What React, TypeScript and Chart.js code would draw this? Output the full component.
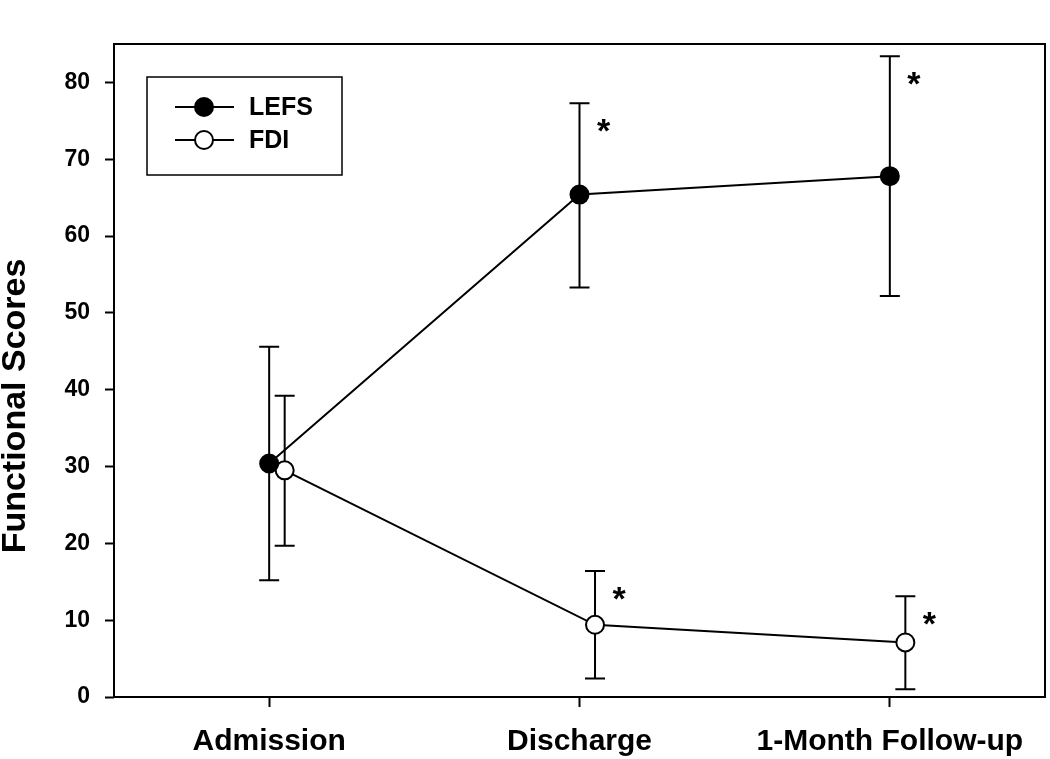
import React, { useEffect, useRef } from "react";
import { Chart, registerables } from "chart.js";

Chart.register(...registerables);

const categories = ["Admission", "Discharge", "1-Month Follow-up"];
const lefsMean = [30.4, 65.4, 67.8];
const lefsUpper = [45.6, 77.3, 83.4];
const lefsLower = [15.2, 53.3, 52.2];
const lefsSig = [false, true, true];
const fdiMean = [29.5, 9.4, 7.1];
const fdiUpper = [39.2, 16.4, 13.1];
const fdiLower = [19.7, 2.4, 1.0];
const fdiSig = [false, true, true];
const fdiShift = 0.05;
const yTicks = [0, 10, 20, 30, 40, 50, 60, 70, 80];
const yTitle = "Functional Scores";

const FONT = "'Liberation Sans', Arial, Helvetica, sans-serif";

const frameAndBars = {
  id: "frameAndBars",
  beforeDatasetsDraw(chart: any) {
    const { ctx, chartArea } = chart;
    const xs = chart.scales.x;
    const ys = chart.scales.y;
    ctx.save();
    ctx.strokeStyle = "#000";
    ctx.lineWidth = 2;
    ctx.strokeRect(chartArea.left, chartArea.top, chartArea.right - chartArea.left, chartArea.bottom - chartArea.top);
    chart.data.datasets.forEach((ds: any) => {
      ds.data.forEach((p: any, i: number) => {
        const px = xs.getPixelForValue(p.x);
        const top = ys.getPixelForValue(ds.upper[i]);
        const bot = ys.getPixelForValue(ds.lower[i]);
        ctx.beginPath();
        ctx.moveTo(px, top);
        ctx.lineTo(px, bot);
        ctx.moveTo(px - 10, top);
        ctx.lineTo(px + 10, top);
        ctx.moveTo(px - 10, bot);
        ctx.lineTo(px + 10, bot);
        ctx.stroke();
      });
    });
    ctx.restore();
  },
  afterDatasetsDraw(chart: any) {
    const { ctx } = chart;
    const xs = chart.scales.x;
    const ys = chart.scales.y;
    ctx.save();
    ctx.fillStyle = "#000";
    ctx.font = `bold 34px ${FONT}`;
    ctx.textAlign = "center";
    ctx.textBaseline = "alphabetic";
    chart.data.datasets.forEach((ds: any) => {
      ds.data.forEach((p: any, i: number) => {
        if (!ds.sig[i]) return;
        const px = xs.getPixelForValue(p.x);
        const top = ys.getPixelForValue(ds.upper[i]);
        ctx.fillText("*", px + 24, top + 19 + 0.58 * 34);
      });
    });
    ctx.restore();
  },
  afterDraw(chart: any) {
    const { ctx } = chart;
    ctx.save();
    // y title
    ctx.translate(16, 406);
    ctx.rotate(-Math.PI / 2);
    ctx.font = `bold 34px ${FONT}`;
    ctx.fillStyle = "#000";
    ctx.textAlign = "center";
    ctx.textBaseline = "middle";
    ctx.fillText(yTitle, 0, 0);
    ctx.restore();

    // legend
    ctx.save();
    ctx.strokeStyle = "#000";
    ctx.lineWidth = 1.5;
    ctx.strokeRect(147, 77, 195, 98);
    const rows = [107, 140];
    chart.data.datasets.forEach((ds: any, k: number) => {
      const y = rows[k];
      ctx.lineWidth = 2;
      ctx.strokeStyle = "#000";
      ctx.beginPath();
      ctx.moveTo(175, y);
      ctx.lineTo(234, y);
      ctx.stroke();
      ctx.beginPath();
      ctx.arc(204, y, 9, 0, Math.PI * 2);
      ctx.fillStyle = ds.pointBackgroundColor;
      ctx.fill();
      ctx.stroke();
      ctx.fillStyle = "#000";
      ctx.font = `bold 25px ${FONT}`;
      ctx.textAlign = "left";
      ctx.textBaseline = "middle";
      ctx.fillText(ds.label, 249, y + 1);
    });
    ctx.restore();
  },
};

export default function App() {
  const ref = useRef<HTMLCanvasElement>(null);
  useEffect(() => {
    if (!ref.current) return;
    const chart = new Chart(ref.current, {
      type: "line",
      data: {
        datasets: [
          {
            label: "LEFS",
            data: lefsMean.map((v, i) => ({ x: i, y: v })),
            upper: lefsUpper,
            lower: lefsLower,
            sig: lefsSig,
            borderColor: "#000",
            borderWidth: 2,
            pointRadius: 9,
            pointBorderWidth: 2,
            pointBackgroundColor: "#000",
            pointBorderColor: "#000",
            tension: 0,
          } as any,
          {
            label: "FDI",
            data: fdiMean.map((v, i) => ({ x: i + fdiShift, y: v })),
            upper: fdiUpper,
            lower: fdiLower,
            sig: fdiSig,
            borderColor: "#000",
            borderWidth: 2,
            pointRadius: 9,
            pointBorderWidth: 2,
            pointBackgroundColor: "#fff",
            pointBorderColor: "#000",
            tension: 0,
          } as any,
        ],
      },
      options: {
        animation: false,
        responsive: false,
        devicePixelRatio: 1,
        layout: { autoPadding: false, padding: { top: 44, right: 5, left: 0, bottom: 0 } },
        plugins: { legend: { display: false }, tooltip: { enabled: false } },
        scales: {
          x: {
            type: "linear",
            min: -0.5,
            max: 2.5,
            afterBuildTicks: (s: any) => {
              s.ticks = categories.map((_, i) => ({ value: i }));
            },
            afterFit: (s: any) => {
              s.height = 62;
              s.paddingLeft = 0;
              s.paddingRight = 0;
            },
            grid: {
              drawOnChartArea: false,
              drawTicks: true,
              tickLength: 10,
              tickColor: "#000",
              tickWidth: 2,
              color: "#000",
            },
            border: { display: false },
            ticks: {
              autoSkip: false,
              maxRotation: 0,
              padding: 17,
              color: "#000",
              font: { family: FONT, size: 30, weight: "bold" },
              callback: (v: any) => categories[Math.round(v)] ?? "",
            },
          },
          y: {
            type: "linear",
            min: 0,
            max: 85,
            afterBuildTicks: (s: any) => {
              s.ticks = yTicks.map((v) => ({ value: v }));
            },
            afterFit: (s: any) => {
              s.width = 114;
              s.paddingTop = 0;
              s.paddingBottom = 0;
            },
            grid: {
              drawOnChartArea: false,
              drawTicks: true,
              tickLength: 9,
              tickColor: "#000",
              tickWidth: 2,
              color: "#000",
            },
            border: { display: false },
            ticks: {
              padding: 15,
              color: "#000",
              font: { family: FONT, size: 23, weight: "bold" },
            },
          },
        },
      },
      plugins: [frameAndBars],
    } as any);
    return () => chart.destroy();
  }, []);
  return (
    <div style={{ position: "absolute", left: 0, top: 0, width: 1050, height: 759, background: "#fff" }}>
      <canvas ref={ref} width={1050} height={759} style={{ width: 1050, height: 759, display: "block" }} />
    </div>
  );
}
